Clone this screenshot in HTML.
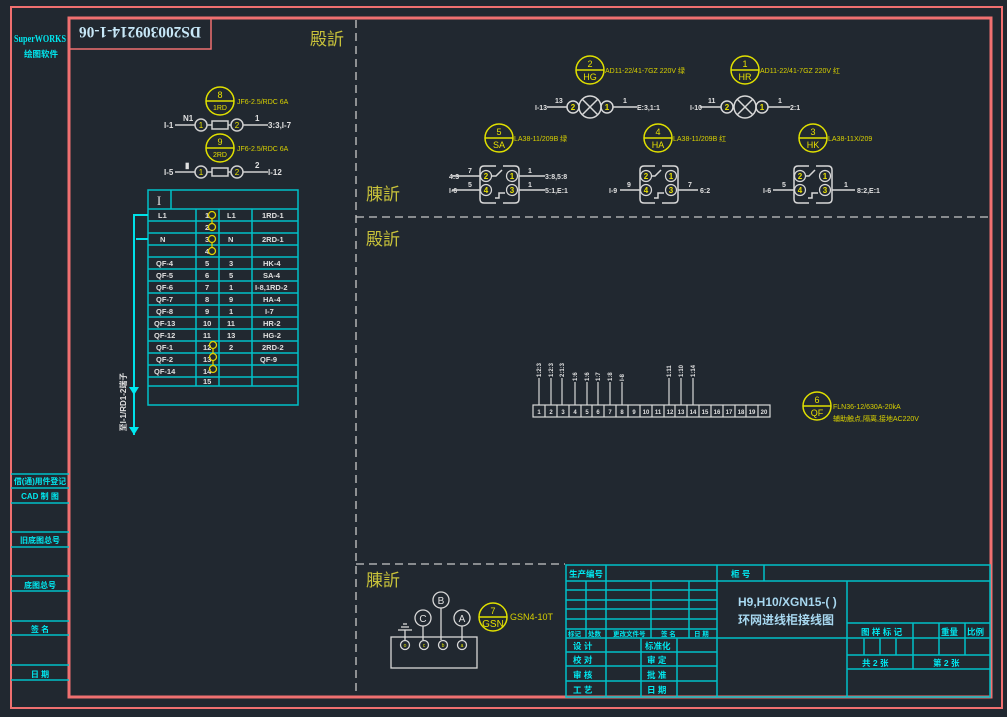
<!DOCTYPE html>
<html><head><meta charset="utf-8"><style>
html,body{margin:0;padding:0;background:#212830;}
svg{display:block}
text{font-family:"Liberation Sans","Noto Sans CJK SC",sans-serif;}
.w{fill:#e0e0e0;font-size:8px;font-weight:bold}
.y{fill:#e8e000;font-size:9px}
.yl{fill:#d8d000;font-size:7px}
.c{fill:#00e8f0;font-size:9px;font-weight:bold}
.o{fill:#c8c23a;font-size:17px}
.t{fill:#e8e8e8;font-size:9px;font-weight:bold}
</style></head><body>
<svg width="1007" height="717" viewBox="0 0 1007 717" xmlns="http://www.w3.org/2000/svg">
<rect width="1007" height="717" fill="#212830"/>
<rect x="11" y="7" width="991" height="701" fill="none" stroke="#f07070" stroke-width="2"/>
<rect x="69" y="18" width="922" height="679" fill="none" stroke="#f07070" stroke-width="3"/>
<g stroke="#c8c8c8" stroke-width="1.3" stroke-dasharray="8,5" fill="none">
<line x1="356" y1="20" x2="356" y2="696"/>
<line x1="356" y1="217" x2="990" y2="217"/>
<line x1="356" y1="564" x2="565" y2="564"/>
</g>
<text x="40" y="42" class="c" text-anchor="middle" textLength="52" lengthAdjust="spacingAndGlyphs" style="font-size:10px;font-family:'Liberation Serif',serif">SuperWORKS</text>
<text x="41" y="57" class="c" text-anchor="middle" style="font-size:8.5px">绘图软件</text>
<g stroke="#00c0c8" stroke-width="1.5">
<line x1="11" y1="474" x2="69" y2="474"/><line x1="11" y1="488" x2="69" y2="488"/><line x1="11" y1="503" x2="69" y2="503"/>
<line x1="11" y1="532" x2="69" y2="532"/><line x1="11" y1="547" x2="69" y2="547"/>
<line x1="11" y1="576" x2="69" y2="576"/><line x1="11" y1="591" x2="69" y2="591"/>
<line x1="11" y1="621" x2="69" y2="621"/><line x1="11" y1="635" x2="69" y2="635"/>
<line x1="11" y1="665" x2="69" y2="665"/><line x1="11" y1="680" x2="69" y2="680"/>
</g>
<g class="c" text-anchor="middle" style="font-size:8px">
<text x="40" y="484" textLength="52" lengthAdjust="spacingAndGlyphs">借(通)用件登记</text><text x="40" y="499">CAD 制 图</text>
<text x="40" y="543">旧底图总号</text><text x="40" y="588">底图总号</text>
<text x="40" y="632">签 名</text><text x="40" y="677">日 期</text>
</g>
<rect x="69" y="18" width="142" height="31" fill="none" stroke="#f07070" stroke-width="1.5"/>
<text x="140" y="33" text-anchor="middle" transform="rotate(180 140 33)" dy="6" textLength="122" lengthAdjust="spacingAndGlyphs" style="font-size:16px;fill:#c8e8f8;font-family:'Liberation Serif',serif;font-weight:bold">DS200309214-1-06</text>
<text x="310" y="45" class="o">殿訢</text>
<text x="366" y="200" class="o">腖訢</text>
<text x="366" y="245" class="o">殿訢</text>
<text x="366" y="586" class="o">腖訢</text>
<g stroke="#e0e000" stroke-width="1.5" fill="none">
<circle cx="220" cy="101" r="14"/><line x1="206" y1="101" x2="234" y2="101"/>
<circle cx="220" cy="148" r="14"/><line x1="206" y1="148" x2="234" y2="148"/>
</g>
<g class="y" text-anchor="middle"><text x="220" y="98">8</text><text x="220" y="110" style="font-size:7px">1RD</text>
<text x="220" y="145">9</text><text x="220" y="157" style="font-size:7px">2RD</text></g>
<text x="237" y="104" class="yl">JF6-2.5/RDC 6A</text>
<text x="237" y="151" class="yl">JF6-2.5/RDC 6A</text>
<g stroke="#d0d0d0" stroke-width="1.5" fill="none">
<line x1="175" y1="125" x2="195" y2="125"/><circle cx="201" cy="125" r="6"/><rect x="212" y="121" width="16" height="8"/><circle cx="237" cy="125" r="6"/><line x1="243" y1="125" x2="268" y2="125"/><line x1="207" y1="125" x2="212" y2="125"/><line x1="228" y1="125" x2="231" y2="125"/>
<line x1="175" y1="172" x2="195" y2="172"/><circle cx="201" cy="172" r="6"/><rect x="212" y="168" width="16" height="8"/><circle cx="237" cy="172" r="6"/><line x1="243" y1="172" x2="268" y2="172"/><line x1="207" y1="172" x2="212" y2="172"/><line x1="228" y1="172" x2="231" y2="172"/>
</g>
<g class="y" text-anchor="middle" style="font-size:8px"><text x="201" y="128">1</text><text x="237" y="128">2</text><text x="201" y="175">1</text><text x="237" y="175">2</text></g>
<g class="w"><text x="164" y="128">I-1</text><text x="183" y="121">N1</text><text x="255" y="121">1</text><text x="268" y="128">3:3,I-7</text>
<text x="164" y="175">I-5</text><text x="185" y="168">▮</text><text x="255" y="168">2</text><text x="268" y="175">I-12</text></g>
<g stroke="#00c0c8" stroke-width="1.5" fill="none">
<rect x="148" y="190" width="150" height="215"/>
<line x1="171" y1="190" x2="171" y2="209"/>
<line x1="148" y1="209" x2="298" y2="209"/>
<line x1="148" y1="221" x2="298" y2="221"/><line x1="148" y1="233" x2="298" y2="233"/><line x1="148" y1="245" x2="298" y2="245"/>
<line x1="148" y1="257" x2="298" y2="257"/><line x1="148" y1="269" x2="298" y2="269"/><line x1="148" y1="281" x2="298" y2="281"/>
<line x1="148" y1="293" x2="298" y2="293"/><line x1="148" y1="305" x2="298" y2="305"/><line x1="148" y1="317" x2="298" y2="317"/>
<line x1="148" y1="329" x2="298" y2="329"/><line x1="148" y1="341" x2="298" y2="341"/><line x1="148" y1="353" x2="298" y2="353"/>
<line x1="148" y1="365" x2="298" y2="365"/><line x1="148" y1="377" x2="298" y2="377"/><line x1="148" y1="386" x2="298" y2="386"/>
<line x1="196" y1="209" x2="196" y2="386"/><line x1="219" y1="209" x2="219" y2="386"/><line x1="252" y1="209" x2="252" y2="386"/>
</g>
<text x="159" y="205" text-anchor="middle" style="font-size:13px;fill:#e0e0e0;font-family:'Liberation Serif',serif">I</text>
<g class="w" style="font-size:7.5px">
<text x="158" y="218">L1</text><text x="205" y="218">1</text><text x="227" y="218">L1</text><text x="262" y="218">1RD-1</text>
<text x="205" y="230">2</text>
<text x="160" y="242">N</text><text x="205" y="242">3</text><text x="228" y="242">N</text><text x="262" y="242">2RD-1</text>
<text x="205" y="254">4</text>
<text x="156" y="266">QF-4</text><text x="205" y="266">5</text><text x="229" y="266">3</text><text x="263" y="266">HK-4</text>
<text x="156" y="278">QF-5</text><text x="205" y="278">6</text><text x="229" y="278">5</text><text x="263" y="278">SA-4</text>
<text x="156" y="290">QF-6</text><text x="205" y="290">7</text><text x="229" y="290">1</text><text x="255" y="290">I-8,1RD-2</text>
<text x="156" y="302">QF-7</text><text x="205" y="302">8</text><text x="229" y="302">9</text><text x="263" y="302">HA-4</text>
<text x="156" y="314">QF-8</text><text x="205" y="314">9</text><text x="229" y="314">1</text><text x="265" y="314">I-7</text>
<text x="154" y="326">QF-13</text><text x="203" y="326">10</text><text x="227" y="326">11</text><text x="263" y="326">HR-2</text>
<text x="154" y="338">QF-12</text><text x="203" y="338">11</text><text x="227" y="338">13</text><text x="263" y="338">HG-2</text>
<text x="156" y="350">QF-1</text><text x="203" y="350">12</text><text x="229" y="350">2</text><text x="262" y="350">2RD-2</text>
<text x="156" y="362">QF-2</text><text x="203" y="362">13</text><text x="260" y="362">QF-9</text>
<text x="154" y="374">QF-14</text><text x="203" y="374">14</text>
<text x="203" y="384">15</text>
</g>
<g stroke="#e0d000" stroke-width="1.3" fill="none">
<circle cx="212" cy="215" r="3.5"/><circle cx="212" cy="227" r="3.5"/><line x1="212" y1="218" x2="212" y2="224"/>
<circle cx="212" cy="239" r="3.5"/><circle cx="212" cy="251" r="3.5"/><line x1="212" y1="242" x2="212" y2="248"/>
<circle cx="213" cy="345" r="3.5"/><circle cx="213" cy="357" r="3.5"/><circle cx="213" cy="369" r="3.5"/><line x1="213" y1="348" x2="213" y2="354"/><line x1="213" y1="360" x2="213" y2="366"/>
</g>
<g stroke="#00e0e8" stroke-width="2" fill="none">
<polyline points="148,215 134,215 134,435"/><polyline points="148,239 136,239"/>
</g>
<polygon points="129,387 139,387 134,395" fill="#00e8f0"/>
<polygon points="129,427 139,427 134,435" fill="#00e8f0"/>
<text x="126" y="402" class="w" text-anchor="middle" transform="rotate(-90 126 402)" style="font-size:8px">至I-1/RD1-2端子</text>
<g stroke="#e0e000" stroke-width="1.5" fill="none">
<circle cx="590" cy="70" r="14"/><line x1="576" y1="70" x2="604" y2="70"/>
<circle cx="745" cy="70" r="14"/><line x1="731" y1="70" x2="759" y2="70"/>
<circle cx="499" cy="138" r="14"/><line x1="485" y1="138" x2="513" y2="138"/>
<circle cx="658" cy="138" r="14"/><line x1="644" y1="138" x2="672" y2="138"/>
<circle cx="813" cy="138" r="14"/><line x1="799" y1="138" x2="827" y2="138"/>
<circle cx="817" cy="406" r="14"/><line x1="803" y1="406" x2="831" y2="406"/>
<circle cx="493" cy="617" r="14"/><line x1="479" y1="617" x2="507" y2="617"/>
</g>
<g class="y" text-anchor="middle">
<text x="590" y="67">2</text><text x="590" y="80">HG</text>
<text x="745" y="67">1</text><text x="745" y="80">HR</text>
<text x="499" y="135">5</text><text x="499" y="148">SA</text>
<text x="658" y="135">4</text><text x="658" y="148">HA</text>
<text x="813" y="135">3</text><text x="813" y="148">HK</text>
<text x="817" y="403">6</text><text x="817" y="416">QF</text>
<text x="493" y="614">7</text><text x="493" y="627" style="font-size:10px">GSN</text>
</g>
<g class="yl">
<text x="605" y="73">AD11-22/41-7GZ 220V 绿</text>
<text x="760" y="73">AD11-22/41-7GZ 220V 红</text>
<text x="514" y="141">LA38-11/209B 绿</text>
<text x="673" y="141">LA38-11/209B 红</text>
<text x="828" y="141">LA38-11X/209</text>
<text x="833" y="409">FLN36-12/630A-20kA</text>
<text x="833" y="421">辅助触点,隔离,接地AC220V</text>
<text x="510" y="620" style="font-size:9px">GSN4-10T</text>
</g>
<g stroke="#d8d8d8" stroke-width="1.5" fill="none">
<line x1="547" y1="107" x2="567" y2="107"/><circle cx="573" cy="107" r="6"/><circle cx="590" cy="107" r="11"/><circle cx="607" cy="107" r="6"/><line x1="613" y1="107" x2="637" y2="107"/>
<line x1="700" y1="107" x2="721" y2="107"/><circle cx="727" cy="107" r="6"/><circle cx="745" cy="107" r="11"/><circle cx="762" cy="107" r="6"/><line x1="768" y1="107" x2="790" y2="107"/>
<line x1="582" y1="99" x2="598" y2="115"/><line x1="582" y1="115" x2="598" y2="99"/>
<line x1="737" y1="99" x2="753" y2="115"/><line x1="737" y1="115" x2="753" y2="99"/>
<path d="M496,166H484Q480,166 480,170V199Q480,203 484,203H496M503,166H515Q519,166 519,170V199Q519,203 515,203H503"/>
<path d="M655,166H644Q640,166 640,170V199Q640,203 644,203H655M662,166H674Q678,166 678,170V199Q678,203 674,203H662"/>
<path d="M809,166H798Q794,166 794,170V199Q794,203 798,203H809M816,166H828Q832,166 832,170V199Q832,203 828,203H816"/>
<line x1="452" y1="176" x2="480" y2="176"/><line x1="452" y1="190" x2="480" y2="190"/><line x1="519" y1="176" x2="545" y2="176"/><line x1="519" y1="190" x2="545" y2="190"/>
<line x1="620" y1="190" x2="640" y2="190"/><line x1="678" y1="190" x2="698" y2="190"/>
<line x1="773" y1="190" x2="794" y2="190"/><line x1="832" y1="190" x2="855" y2="190"/>
<polyline points="492,176 496,176 502,170"/><polyline points="495,198 499,198 499,193 505,193"/>
<polyline points="651,176 655,176 661,170"/><polyline points="654,198 658,198 658,193 664,193"/>
<polyline points="805,176 809,176 815,170"/><polyline points="808,198 812,198 812,193 818,193"/>
</g>
<g stroke="#d8d8d8" stroke-width="1.2" fill="none">
<circle cx="486" cy="176" r="5.5"/><circle cx="512" cy="176" r="5.5"/><circle cx="486" cy="190" r="5.5"/><circle cx="512" cy="190" r="5.5"/>
<circle cx="646" cy="176" r="5.5"/><circle cx="671" cy="176" r="5.5"/><circle cx="646" cy="190" r="5.5"/><circle cx="671" cy="190" r="5.5"/>
<circle cx="800" cy="176" r="5.5"/><circle cx="825" cy="176" r="5.5"/><circle cx="800" cy="190" r="5.5"/><circle cx="825" cy="190" r="5.5"/>
</g>
<g class="y" text-anchor="middle" style="font-size:8px;font-weight:bold">
<text x="573" y="110">2</text><text x="607" y="110">1</text><text x="727" y="110">2</text><text x="762" y="110">1</text>
<text x="486" y="179">2</text><text x="512" y="179">1</text><text x="486" y="193">4</text><text x="512" y="193">3</text>
<text x="646" y="179">2</text><text x="671" y="179">1</text><text x="646" y="193">4</text><text x="671" y="193">3</text>
<text x="800" y="179">2</text><text x="825" y="179">1</text><text x="800" y="193">4</text><text x="825" y="193">3</text>
</g>
<g class="w" style="font-size:7px">
<text x="535" y="110">I-13</text><text x="555" y="103">13</text><text x="623" y="103">1</text><text x="637" y="110">E:3,1:1</text>
<text x="690" y="110">I-10</text><text x="708" y="103">11</text><text x="778" y="103">1</text><text x="790" y="110">2:1</text>
<text x="449" y="179">4:3</text><text x="449" y="193">I-6</text><text x="468" y="173">7</text><text x="468" y="187">5</text><text x="528" y="173">1</text><text x="528" y="187">1</text><text x="545" y="179">3:8,5:8</text><text x="545" y="193">5:1,E:1</text>
<text x="609" y="193">I-9</text><text x="627" y="187">9</text><text x="688" y="187">7</text><text x="700" y="193">6:2</text>
<text x="763" y="193">I-6</text><text x="782" y="187">5</text><text x="844" y="187">1</text><text x="857" y="193">8:2,E:1</text>
</g>
<g stroke="#d8d8d8" stroke-width="1.2" fill="none">
<rect x="533" y="405" width="237" height="12"/>
<path d="M545,405V417M557,405V417M569,405V417M581,405V417M592,405V417M604,405V417M616,405V417M628,405V417M640,405V417M652,405V417M664,405V417M675,405V417M687,405V417M699,405V417M711,405V417M723,405V417M735,405V417M746,405V417M758,405V417"/>
<path d="M539,405V378M551,405V378M562,405V378M575,405V382M587,405V382M598,405V382M610,405V382M622,405V382M669,405V378M681,405V378M693,405V378"/>
</g>
<g class="w" style="font-size:6px" text-anchor="middle">
<text x="539" y="414">1</text><text x="551" y="414">2</text><text x="563" y="414">3</text><text x="575" y="414">4</text><text x="587" y="414">5</text><text x="598" y="414">6</text><text x="610" y="414">7</text><text x="622" y="414">8</text><text x="634" y="414">9</text><text x="646" y="414">10</text><text x="658" y="414">11</text><text x="670" y="414">12</text><text x="681" y="414">13</text><text x="693" y="414">14</text><text x="705" y="414">15</text><text x="717" y="414">16</text><text x="729" y="414">17</text><text x="741" y="414">18</text><text x="752" y="414">19</text><text x="764" y="414">20</text>
</g>
<g class="w" style="font-size:6px">
<text transform="rotate(-90 541 377)" x="541" y="377">1:2:3</text><text transform="rotate(-90 553 377)" x="553" y="377">1:2:3</text><text transform="rotate(-90 564 377)" x="564" y="377">2:1:3</text>
<text transform="rotate(-90 577 381)" x="577" y="381">1:6</text><text transform="rotate(-90 589 381)" x="589" y="381">1:6</text><text transform="rotate(-90 600 381)" x="600" y="381">1:7</text><text transform="rotate(-90 612 381)" x="612" y="381">1:8</text><text transform="rotate(-90 624 381)" x="624" y="381">I-8</text>
<text transform="rotate(-90 671 377)" x="671" y="377">1:11</text><text transform="rotate(-90 683 377)" x="683" y="377">1:10</text><text transform="rotate(-90 695 377)" x="695" y="377">1:14</text>
</g>
<g stroke="#d8d8d8" stroke-width="1.3" fill="none">
<rect x="391" y="637" width="86" height="31"/>
<circle cx="405" cy="645" r="4.5"/><circle cx="424" cy="645" r="4.5"/><circle cx="443" cy="645" r="4.5"/><circle cx="462" cy="645" r="4.5"/>
<circle cx="423" cy="618" r="8"/><circle cx="441" cy="600" r="8"/><circle cx="462" cy="618" r="8"/>
<line x1="423" y1="626" x2="423" y2="640"/><line x1="441" y1="608" x2="441" y2="640"/><line x1="462" y1="626" x2="462" y2="640"/>
<line x1="405" y1="630" x2="405" y2="640"/><line x1="398" y1="630" x2="412" y2="630"/><line x1="401" y1="627" x2="409" y2="627"/><line x1="403" y1="624" x2="407" y2="624"/>
</g>
<g style="font-size:10px;fill:#e0e0e0" text-anchor="middle"><text x="423" y="622">C</text><text x="441" y="604">B</text><text x="462" y="622">A</text></g>
<g style="font-size:5px;fill:#e0e000" text-anchor="middle"><text x="405" y="647">o</text><text x="424" y="647">c</text><text x="443" y="647">b</text><text x="462" y="647">a</text></g>
<g stroke="#00c0c8" stroke-width="1.5" fill="none">
<rect x="566" y="565" width="424" height="132"/>
<line x1="566" y1="581" x2="990" y2="581"/>
<path d="M606,565V581M717,565V697M764,565V581M847,581V697"/>
<path d="M566,590H717M566,600H717M566,609H717M566,619H717M566,629H717M566,638H990M566,652H717M566,666H717M566,681H717"/>
<path d="M586,581V638M606,581V697M651,581V638M689,581V638M641,638V697M677,638V697"/>
<path d="M847,623H990M847,655H990M847,669H990"/>
<path d="M913,623V669M939,623V655M965,623V655M864,638V655M880,638V655M896,638V655"/>
</g>
<g class="c" style="font-size:8.5px">
<text x="569" y="577">生产编号</text><text x="731" y="577">柜 号</text>
<text x="568" y="636" style="font-size:6.5px">标记</text><text x="588" y="636" style="font-size:6.5px">处数</text><text x="613" y="636" style="font-size:6.5px">更改文件号</text><text x="661" y="636" style="font-size:6.5px">签 名</text><text x="694" y="636" style="font-size:6.5px">日 期</text>
<text x="573" y="649">设 计</text><text x="645" y="649">标准化</text>
<text x="573" y="663">校 对</text><text x="647" y="663">审 定</text>
<text x="573" y="678">审 核</text><text x="647" y="678">批 准</text>
<text x="573" y="693">工 艺</text><text x="647" y="693">日 期</text>
<text x="861" y="635">图 样 标 记</text><text x="941" y="635">重量</text><text x="967" y="635">比例</text>
<text x="862" y="666">共 2 张</text><text x="933" y="666">第 2 张</text>
</g>
<g style="font-size:12px;fill:#a8d8f0;font-weight:bold">
<text x="738" y="606">H9,H10/XGN15-( )</text>
<text x="738" y="624">环网进线柜接线图</text>
</g>
</svg>
</body></html>
